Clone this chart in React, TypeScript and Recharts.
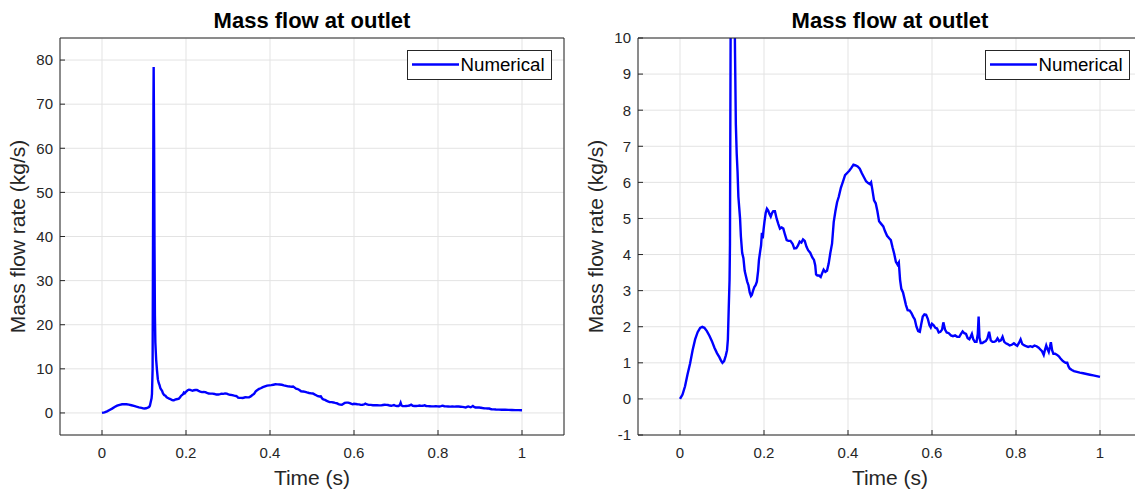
import { CartesianGrid, Label, Legend, Line, LineChart, XAxis, YAxis } from "recharts";

// outlet mass flow history, sampled along the time axis
const timeS = [
  0, 0.006, 0.012, 0.018, 0.024, 0.03, 0.036, 0.042, 0.048, 0.053, 0.058, 0.064, 0.07, 0.076, 0.082, 0.088,
  0.094, 0.098, 0.101, 0.105, 0.109, 0.112, 0.114, 0.116, 0.118, 0.119, 0.1205, 0.1215, 0.1225, 0.123, 0.124,
  0.125, 0.126, 0.127, 0.129, 0.131, 0.133, 0.135, 0.137, 0.139, 0.141, 0.143, 0.145, 0.148, 0.151, 0.154,
  0.157, 0.16, 0.163, 0.166, 0.169, 0.171, 0.174, 0.177, 0.18, 0.183, 0.186, 0.188, 0.191, 0.193, 0.195,
  0.197, 0.199, 0.201, 0.204, 0.207, 0.21, 0.213, 0.216, 0.219, 0.222, 0.226, 0.23, 0.234, 0.238, 0.242,
  0.246, 0.25, 0.254, 0.258, 0.263, 0.268, 0.272, 0.277, 0.281, 0.285, 0.289, 0.293, 0.297, 0.301, 0.305,
  0.31, 0.315, 0.319, 0.322, 0.324, 0.327, 0.331, 0.335, 0.339, 0.342, 0.346, 0.35, 0.354, 0.358, 0.362,
  0.366, 0.37, 0.374, 0.378, 0.383, 0.388, 0.393, 0.398, 0.403, 0.408, 0.413, 0.418, 0.423, 0.428, 0.433,
  0.438, 0.443, 0.448, 0.452, 0.455, 0.458, 0.462, 0.466, 0.47, 0.474, 0.479, 0.484, 0.488, 0.493, 0.498,
  0.502, 0.506, 0.51, 0.514, 0.518, 0.521, 0.524, 0.527, 0.531, 0.534, 0.538, 0.542, 0.547, 0.551, 0.555,
  0.559, 0.563, 0.567, 0.571, 0.574, 0.578, 0.582, 0.586, 0.59, 0.594, 0.597, 0.6, 0.604, 0.608, 0.612,
  0.616, 0.62, 0.624, 0.627, 0.631, 0.635, 0.64, 0.645, 0.65, 0.655, 0.66, 0.665, 0.669, 0.673, 0.677,
  0.681, 0.685, 0.689, 0.692, 0.695, 0.698, 0.702, 0.706, 0.709, 0.711, 0.713, 0.716, 0.72, 0.724, 0.728,
  0.732, 0.736, 0.74, 0.744, 0.748, 0.752, 0.756, 0.76, 0.764, 0.768, 0.772, 0.776, 0.78, 0.785, 0.79,
  0.795, 0.799, 0.803, 0.807, 0.811, 0.815, 0.819, 0.824, 0.829, 0.834, 0.839, 0.844, 0.849, 0.854, 0.858,
  0.862, 0.866, 0.869, 0.872, 0.875, 0.878, 0.881, 0.883, 0.886, 0.889, 0.893, 0.898, 0.902, 0.906, 0.91,
  0.914, 0.918, 0.922, 0.925, 0.928, 0.933, 0.938, 0.945, 0.952, 0.96, 0.968, 0.976, 0.984, 0.992, 1,
];

const massFlow = [
  0, 0.12, 0.35, 0.68, 0.98, 1.35, 1.65, 1.85, 1.97, 2.0, 1.97, 1.88, 1.75, 1.6, 1.42, 1.27,
  1.15, 1.05, 1.0, 1.05, 1.2, 1.35, 1.65, 2.5, 3.3, 4.3, 10, 40, 70, 78.4, 62,
  38, 22, 16, 12, 9.6, 7.6, 6.8, 6.3, 5.6, 5.3, 5.0, 4.5, 4.05, 3.9, 3.55,
  3.4, 3.25, 3.15, 2.95, 2.85, 2.88, 3.0, 3.1, 3.15, 3.25, 3.55, 3.85, 4.1, 4.25, 4.6,
  4.45, 4.7, 4.9, 5.15, 5.27, 5.22, 5.12, 5.05, 5.15, 5.2, 5.2, 5.0, 4.85, 4.72, 4.75,
  4.72, 4.55, 4.4, 4.38, 4.38, 4.3, 4.17, 4.18, 4.25, 4.36, 4.33, 4.42, 4.38, 4.22, 4.12,
  4.05, 3.92, 3.85, 3.7, 3.45, 3.42, 3.42, 3.38, 3.5, 3.58, 3.52, 3.55, 3.75, 4.05, 4.3,
  4.9, 5.2, 5.45, 5.6, 5.85, 6.02, 6.2, 6.26, 6.32, 6.4, 6.49, 6.47, 6.44, 6.38, 6.25,
  6.14, 6.03, 5.98, 5.95, 6.0, 5.8, 5.5, 5.42, 5.2, 4.92, 4.85, 4.78, 4.65, 4.52, 4.45,
  4.4, 4.2, 4.02, 3.8, 3.72, 3.78, 3.3, 3.05, 2.95, 2.8, 2.6, 2.46, 2.45, 2.38, 2.28,
  2.2, 2.0, 1.88, 1.86, 2.05, 2.28, 2.34, 2.33, 2.22, 2.04, 1.98, 2.08, 2.04, 1.97, 1.95,
  1.84, 1.86, 1.92, 2.12, 1.92, 1.84, 1.82, 1.76, 1.74, 1.76, 1.72, 1.72, 1.8, 1.87, 1.82,
  1.8, 1.68, 1.65, 1.72, 1.8, 1.66, 1.58, 1.58, 1.8, 2.28, 1.7, 1.55, 1.55, 1.58, 1.6,
  1.68, 1.86, 1.62, 1.58, 1.58, 1.6, 1.68, 1.6, 1.62, 1.72, 1.58, 1.54, 1.52, 1.48, 1.5,
  1.54, 1.5, 1.47, 1.55, 1.65, 1.52, 1.49, 1.46, 1.44, 1.46, 1.44, 1.48, 1.46, 1.42, 1.37,
  1.32, 1.22, 1.36, 1.48, 1.38, 1.3, 1.45, 1.57, 1.35, 1.25, 1.25, 1.22, 1.18, 1.12, 1.07,
  1.03, 1.0, 1.0, 0.9, 0.84, 0.8, 0.77, 0.75, 0.73, 0.71, 0.69, 0.67, 0.65, 0.63, 0.61,
];

const timeTicks = [0, 0.2, 0.4, 0.6, 0.8, 1];
const fullRangeTicks = [0, 10, 20, 30, 40, 50, 60, 70, 80];
const closeUpTicks = [-1, 0, 1, 2, 3, 4, 5, 6, 7, 8, 9, 10];

const seriesName = "Numerical";
const titleText = "Mass flow at outlet";
const xLabel = "Time (s)";
const yLabel = "Mass flow rate (kg/s)";

const data = timeS.map((t, i) => ({ t, flow: massFlow[i] }));

const FONT = '"Liberation Sans", Arial, Helvetica, sans-serif';
const AXIS = "#262626";
const GRID = "#e3e3e3";
const BLUE = "#0000ff";

const LegendBox = (props: any) => {
  const item = props.payload?.find((p: any) => p.value === seriesName);
  if (!item) return null;
  return (
    <svg width={146} height={31} style={{ display: "block" }}>
      <rect x={0.5} y={0.5} width={144} height={29} fill="#fff" stroke={AXIS} />
      <line x1={5} x2={52} y1={14.5} y2={14.5} stroke={item.color} strokeWidth={2.4} />
      <text x={53.5} y={21.2} fontSize={18.7} fill="#000" fontFamily={FONT}>
        {item.value}
      </text>
    </svg>
  );
};

type PanelProps = { left: number; yDomain: [number, number]; yTicks: number[] };

// one boxed panel; top/right axes are 1px wide mirrors that close the box
const MassFlowPanel = ({ left, yDomain, yTicks }: PanelProps) => (
  <div style={{ position: "absolute", left, top: 0 }}>
    <LineChart
      width={565}
      height={491}
      data={data}
      margin={{ top: 37, right: 0, bottom: 0, left: 0 }}
      style={{ fontFamily: FONT }}
    >
      <CartesianGrid stroke={GRID} strokeWidth={1} />
      <XAxis
        dataKey="t"
        type="number"
        domain={[-0.1, 1.1]}
        ticks={timeTicks}
        interval={0}
        allowDataOverflow
        height={56}
        tickSize={-5}
        tickMargin={17}
        axisLine={{ stroke: AXIS }}
        tickLine={{ stroke: AXIS }}
        tick={{ fill: AXIS, fontSize: 15 }}
      >
        <Label value={xLabel} position="insideBottom" offset={6} fontSize={21} fill={AXIS} />
      </XAxis>
      <XAxis
        xAxisId="top"
        orientation="top"
        dataKey="t"
        type="number"
        domain={[-0.1, 1.1]}
        ticks={timeTicks}
        interval={0}
        allowDataOverflow
        height={1}
        tickSize={-5}
        tick={false}
        axisLine={{ stroke: AXIS }}
        tickLine={{ stroke: AXIS }}
      >
        <Label value={titleText} position="top" offset={9} fontSize={22} fontWeight={700} fill="#000" />
      </XAxis>
      <YAxis
        type="number"
        domain={yDomain}
        ticks={yTicks}
        interval={0}
        allowDataOverflow
        width={60}
        tickSize={-5}
        tickMargin={12}
        axisLine={{ stroke: AXIS }}
        tickLine={{ stroke: AXIS }}
        tick={{ fill: AXIS, fontSize: 15 }}
      >
        <Label
          value={yLabel}
          angle={-90}
          position="insideLeft"
          offset={18}
          fontSize={21}
          fill={AXIS}
          style={{ textAnchor: "middle" }}
        />
      </YAxis>
      <YAxis
        yAxisId="right"
        orientation="right"
        type="number"
        domain={yDomain}
        ticks={yTicks}
        interval={0}
        allowDataOverflow
        width={1}
        tickSize={-5}
        tick={false}
        axisLine={{ stroke: AXIS }}
        tickLine={{ stroke: AXIS }}
      />
      <Legend
        layout="horizontal"
        verticalAlign="middle"
        align="center"
        wrapperStyle={{ left: 407, top: 50, width: "auto", height: "auto" }}
        content={LegendBox}
      />
      <Line
        type="linear"
        dataKey="flow"
        name={seriesName}
        stroke={BLUE}
        strokeWidth={2.4}
        dot={false}
        activeDot={false}
        isAnimationActive={false}
      />
    </LineChart>
  </div>
);

export default function App() {
  return (
    <div
      style={{
        position: "absolute",
        left: 0,
        top: 0,
        width: 1135,
        height: 491,
        overflow: "hidden",
        background: "#fff",
      }}
    >
      <MassFlowPanel left={0} yDomain={[-5, 85]} yTicks={fullRangeTicks} />
      <MassFlowPanel left={578} yDomain={[-1, 10]} yTicks={closeUpTicks} />
    </div>
  );
}
